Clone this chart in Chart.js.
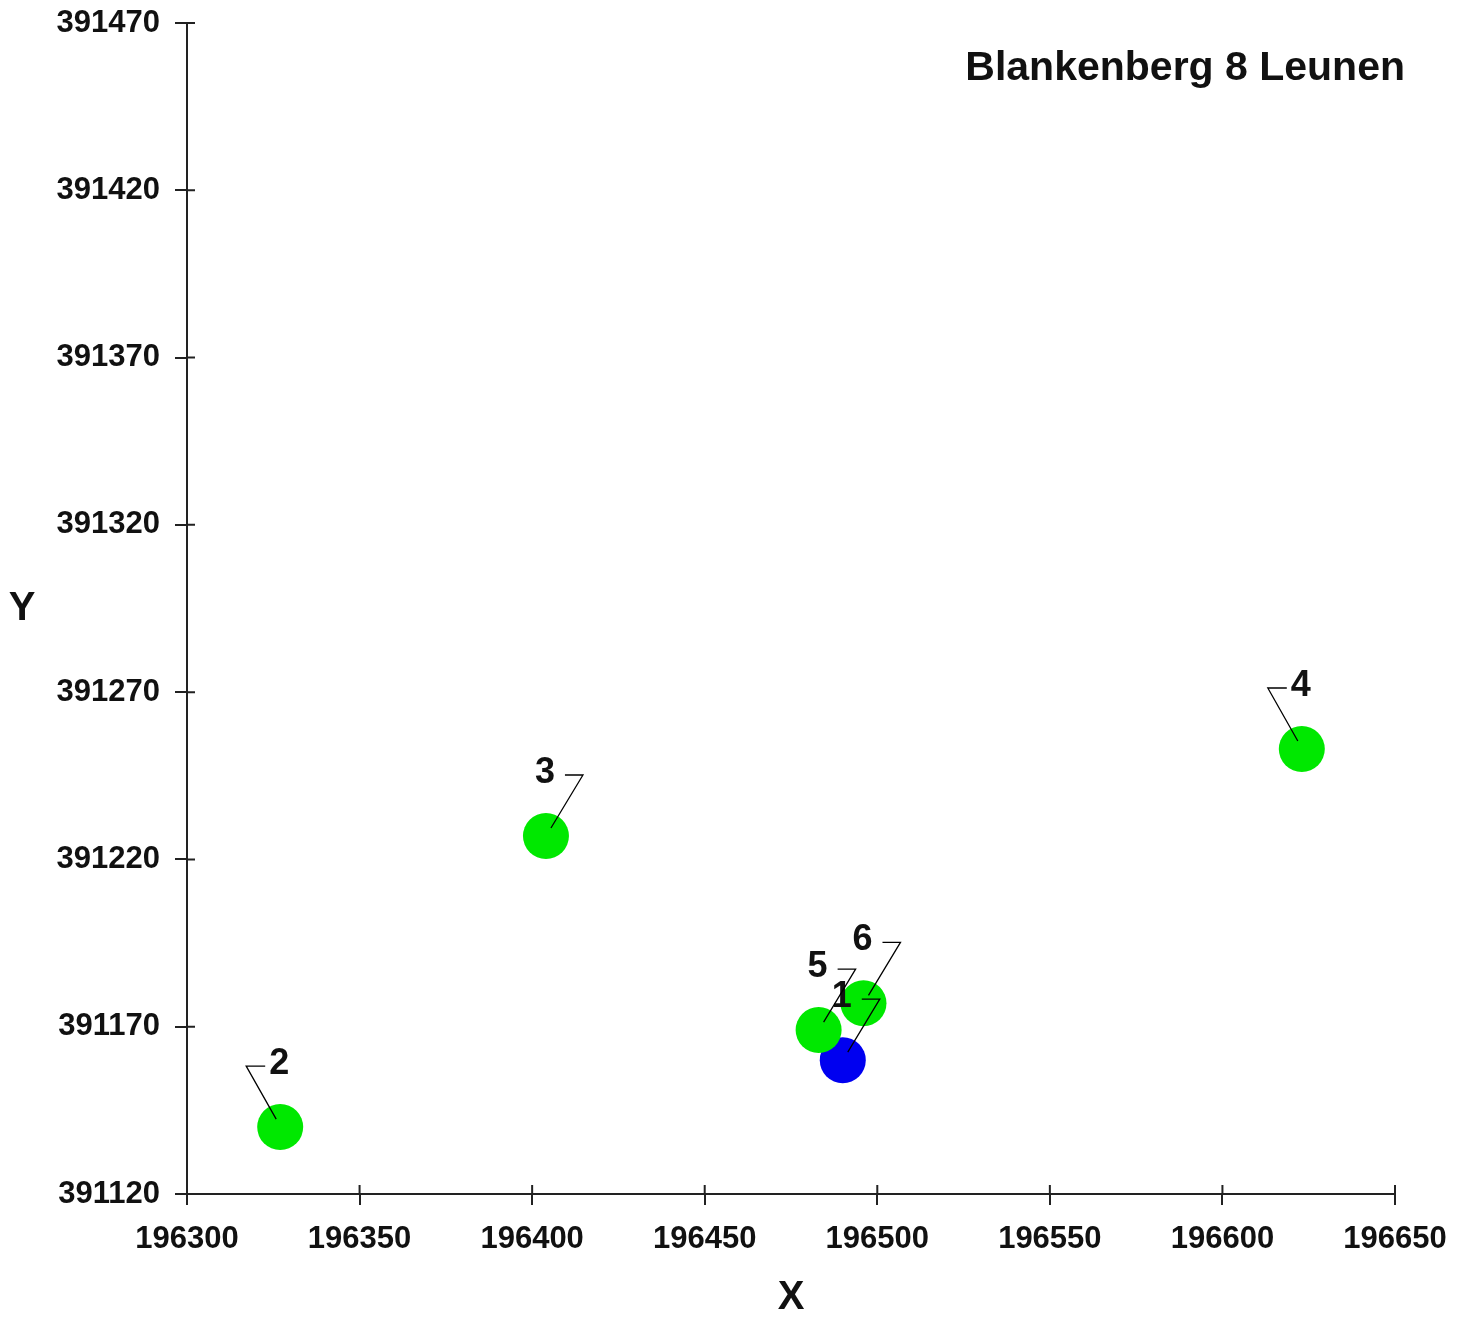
<!DOCTYPE html>
<html>
<head>
<meta charset="utf-8">
<title>Blankenberg 8 Leunen</title>
<script src="https://cdn.jsdelivr.net/npm/chart.js@4.4.1/dist/chart.umd.min.js"></script>
<style>
  body { margin: 0; background: #fff; }
  #wrap { width: 1469px; height: 1319px; }
</style>
</head>
<body>
<div id="wrap"><canvas id="kaart" width="1469" height="1319"></canvas></div>
<script>
// punten (x/y coordinaten)
const puntNamen = ["1", "2", "3", "4", "5", "6"];
const xWaarden = [196490, 196327, 196404, 196623, 196483, 196496];
const yWaarden = [391160, 391140, 391227, 391253, 391169, 391177];
const puntSoort = ["blauw", "groen", "groen", "groen", "groen", "groen"];
// kant van het hulplijntje bij het label
const labelKant = ["rechts", "links", "rechts", "links", "rechts", "rechts"];

const xTicks = [196300, 196350, 196400, 196450, 196500, 196550, 196600, 196650];
const yTicks = [391120, 391170, 391220, 391270, 391320, 391370, 391420, 391470];

const titel = "Blankenberg 8 Leunen";
const lettertype = "'Liberation Sans', Arial, sans-serif";
const asKleur = "#222";

function punten(soort) {
  const lijst = [];
  for (let i = 0; i < puntNamen.length; i++) {
    if (puntSoort[i] === soort) lijst.push({ x: xWaarden[i], y: yWaarden[i] });
  }
  return lijst;
}

// labels met hulplijn, streepjes naar binnen, titels
const extraTekening = {
  id: "extraTekening",
  afterDatasetsDraw(chart) {
    const ctx = chart.ctx;
    const sx = chart.scales.x, sy = chart.scales.y;
    ctx.save();
    for (let i = 0; i < puntNamen.length; i++) {
      const px = sx.getPixelForValue(xWaarden[i]);
      const py = sy.getPixelForValue(yWaarden[i]);
      const lx = px - 1, ly = py - 63;
      ctx.strokeStyle = "#000";
      ctx.lineWidth = 1.3;
      ctx.beginPath();
      if (labelKant[i] === "rechts") {
        ctx.moveTo(lx + 20, ly + 2);
        ctx.lineTo(lx + 38, ly + 2);
        ctx.lineTo(px + 5, py - 8);
      } else {
        ctx.moveTo(lx - 14, ly + 2);
        ctx.lineTo(lx - 33, ly + 2);
        ctx.lineTo(px - 4, py - 8);
      }
      ctx.stroke();
      ctx.fillStyle = "#111";
      ctx.font = "bold 36px " + lettertype;
      ctx.textAlign = "center";
      ctx.textBaseline = "middle";
      ctx.fillText(puntNamen[i], lx, ly);
    }
    ctx.restore();
  },
  afterDraw(chart) {
    const ctx = chart.ctx;
    const sx = chart.scales.x, sy = chart.scales.y;
    const area = chart.chartArea;
    ctx.save();
    // stukje van de streepjes binnen het grafiekvlak
    ctx.strokeStyle = asKleur;
    ctx.lineWidth = 2;
    ctx.beginPath();
    xTicks.forEach(v => {
      const p = sx.getPixelForValue(v);
      ctx.moveTo(p, area.bottom);
      ctx.lineTo(p, area.bottom - 9);
    });
    yTicks.forEach(v => {
      const p = sy.getPixelForValue(v);
      ctx.moveTo(area.left, p);
      ctx.lineTo(area.left + 8, p);
    });
    ctx.stroke();

    ctx.fillStyle = "#111";
    ctx.textBaseline = "middle";
    ctx.font = "bold 40px " + lettertype;
    ctx.textAlign = "center";
    ctx.fillText("X", (area.left + area.right) / 2, 1298);
    ctx.fillText("Y", 22, (area.top + area.bottom) / 2);

    ctx.font = "bold 41px " + lettertype;
    ctx.textAlign = "right";
    ctx.fillText(titel, area.right + 10, area.top + 46);
    ctx.restore();
  }
};

const ctx = document.getElementById("kaart").getContext("2d");
const chart = new Chart(ctx, {
  type: "scatter",
  data: {
    datasets: [
      {
        label: "groen",
        data: punten("groen"),
        backgroundColor: "#00e800",
        borderWidth: 0,
        pointRadius: 23,
        pointHoverRadius: 23
      },
      {
        label: "blauw",
        data: punten("blauw"),
        backgroundColor: "#0000f0",
        borderWidth: 0,
        pointRadius: 23,
        pointHoverRadius: 23
      }
    ]
  },
  options: {
    responsive: false,
    animation: false,
    events: [],
    layout: { padding: { top: 22, right: 74, left: 0, bottom: 0 } },
    plugins: {
      legend: { display: false },
      tooltip: { enabled: false }
    },
    scales: {
      x: {
        type: "linear",
        min: xTicks[0],
        max: xTicks[xTicks.length - 1],
        afterBuildTicks: s => { s.ticks = xTicks.map(v => ({ value: v })); },
        afterFit: s => { s.height = 125; s.paddingLeft = 0; s.paddingRight = 0; },
        grid: { drawOnChartArea: false, tickLength: 11, color: asKleur, lineWidth: 2 },
        border: { color: asKleur, width: 2 },
        ticks: {
          padding: 16,
          color: "#111",
          maxRotation: 0,
          font: { family: lettertype, size: 31, weight: "bold" },
          callback: v => String(v)
        }
      },
      y: {
        type: "linear",
        min: yTicks[0],
        max: yTicks[yTicks.length - 1],
        afterBuildTicks: s => { s.ticks = yTicks.map(v => ({ value: v })); },
        afterFit: s => { s.width = 187; s.paddingTop = 0; s.paddingBottom = 0; },
        grid: { drawOnChartArea: false, tickLength: 12, color: asKleur, lineWidth: 2 },
        border: { color: asKleur, width: 2 },
        ticks: {
          padding: 15,
          color: "#111",
          font: { family: lettertype, size: 31, weight: "bold" },
          callback: v => String(v)
        }
      }
    }
  },
  plugins: [extraTekening]
});
</script>
</body>
</html>
